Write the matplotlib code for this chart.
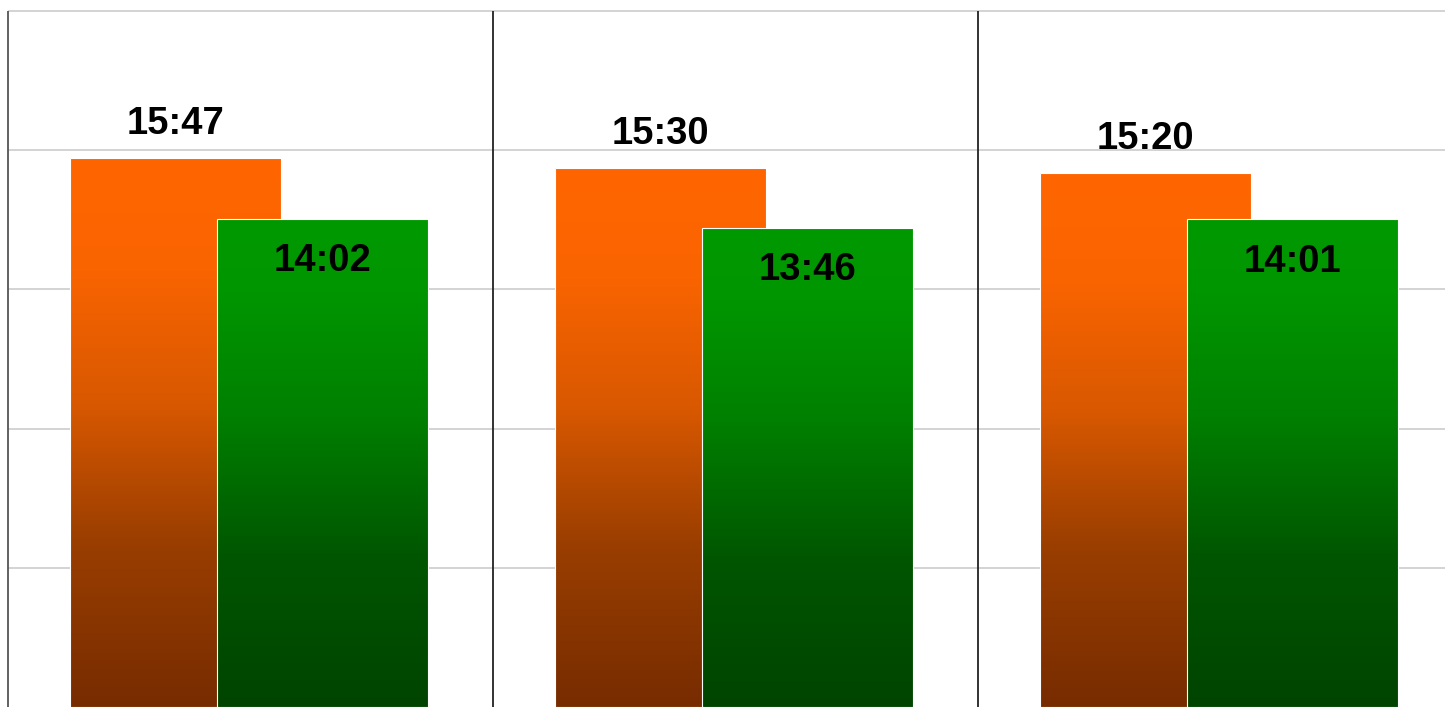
# -*- coding: utf-8 -*-
import matplotlib.pyplot as plt
import numpy as np
from matplotlib.colors import LinearSegmentedColormap


groups = ['A', 'B', 'C']
first = ['15:47', '15:30', '15:20']
second = ['14:02', '13:46', '14:01']
grid_hours = [4, 8, 12, 16, 20]


def to_minutes(t):
	h, m = t.split(':')
	return int(h) * 60 + int(m)


def gradient_bars(ax, x, values, width, cmap, z):
	bars = ax.bar(x, values, width=width, align='edge', color='none',
		edgecolor='white', linewidth=0.8, zorder=z + 0.1)
	grad = np.linspace(0, 1, 256).reshape(-1, 1)
	for bar in bars:
		x0, y0 = bar.get_x(), bar.get_y()
		w, h = bar.get_width(), bar.get_height()
		im = ax.imshow(grad, cmap=cmap, origin='lower', aspect='auto',
			extent=[x0, x0 + w, y0, y0 + h], zorder=z)
		im.set_clip_path(bar)
	return bars


def main():
	plt.rcParams['font.family'] = ['Liberation Sans', 'DejaVu Sans']

	fig = plt.figure(figsize=[14.45, 7.07], dpi=100)
	ax = fig.add_axes([0, 0, 1, 1])

	v1 = np.array([to_minutes(t) for t in first])
	v2 = np.array([to_minutes(t) for t in second])
	x = np.arange(len(groups))

	orange = LinearSegmentedColormap.from_list('o', [
		(0.0, '#772c00'), (0.3, '#9a3e00'), (0.55, '#d85800'),
		(0.8, '#fa6400'), (1.0, '#ff6600')])
	green = LinearSegmentedColormap.from_list('g', [
		(0.0, '#004400'), (0.3, '#005500'), (0.6, '#008000'),
		(0.85, '#009600'), (1.0, '#009900')])

	width = 0.435
	gradient_bars(ax, x + 0.128, v1, width, orange, 3)
	gradient_bars(ax, x + 0.431, v2, width, green, 4)

	for xi, v, t in zip(x, v1, first):
		ax.annotate(t, (xi + 0.128 + width / 2, v), xytext=(0, 24.5),
			textcoords='offset points', ha='center', va='center',
			fontsize=27.5, fontweight='bold', zorder=6)
	for xi, v, t in zip(x, v2, second):
		ax.annotate(t, (xi + 0.431 + width / 2, v), xytext=(0, -30.5),
			textcoords='offset points', ha='center', va='center',
			fontsize=27.5, fontweight='bold', zorder=6)

	top = grid_hours[-1] * 60
	xmin, xmax = -8 / 485, 1437 / 485
	for h in grid_hours:
		ax.hlines(h * 60, 0, xmax, color='#cccccc', linewidth=1.2, zorder=1)
	for i in x:
		ax.vlines(i, 0, top, color='#555555' if i == 0 else '#222222',
			linewidth=1.3, zorder=2)

	ax.set_xlim(xmin, xmax)
	ax.set_ylim(0, 707 / 0.58)
	ax.axis('off')

	fig.savefig('out.png', dpi=100)


if __name__ == "__main__":
	main()
